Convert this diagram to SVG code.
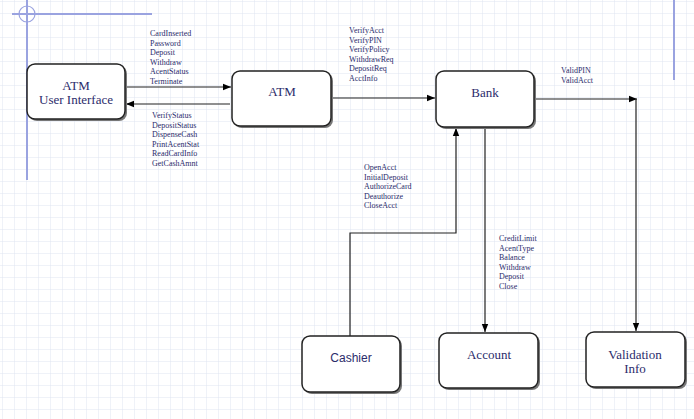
<svg xmlns="http://www.w3.org/2000/svg" width="694" height="419" viewBox="0 0 694 419">
<defs>
<pattern id="grid" width="12" height="12" patternUnits="userSpaceOnUse" x="3" y="2">
<path d="M12 0V12H0" fill="none" stroke="#dfe4f0" stroke-width="1"/>
</pattern>
<marker id="ah" viewBox="0 0 10 10" refX="10" refY="5" markerWidth="8" markerHeight="8" markerUnits="userSpaceOnUse" orient="auto">
<path d="M0 1L10 5L0 9Z" fill="#000"/>
</marker>
<style>
.box{fill:#fff;stroke:#222;stroke-width:1.5}
.sh{fill:#777}
.nt{font-family:"Liberation Serif",serif;font-size:13px;fill:#2b2b6b;text-anchor:middle}
.ns{font-family:"Liberation Sans",sans-serif;font-size:12px;fill:#2b2b6b;text-anchor:middle}
.lb{font-family:"Liberation Serif",serif;font-size:8px;fill:#2b2b6b}
.c{fill:none;stroke:#222;stroke-width:1.2}
</style>
</defs>
<rect width="694" height="419" fill="#fff"/>
<rect width="694" height="419" fill="url(#grid)"/>
<g id="guides" stroke="#9aa3e0" stroke-width="2" fill="none">
<line x1="12" y1="14" x2="152" y2="14"/>
<line x1="27" y1="0" x2="27" y2="180"/>
<circle cx="27" cy="14" r="8" stroke-width="1.2"/>
<line x1="674" y1="0" x2="674" y2="80"/>
</g>
<g id="connectors">
<line class="c" x1="126" y1="87" x2="231" y2="87" marker-end="url(#ah)"/>
<line class="c" x1="230" y1="104" x2="126" y2="104" marker-end="url(#ah)"/>
<line class="c" x1="332" y1="98" x2="435" y2="98" marker-end="url(#ah)"/>
<line class="c" x1="535" y1="99" x2="637" y2="99" marker-end="url(#ah)"/>
<line class="c" x1="636" y1="99" x2="636" y2="331" marker-end="url(#ah)"/>
<line class="c" x1="485" y1="127" x2="485" y2="332" marker-end="url(#ah)"/>
<polyline class="c" points="350,336 350,233 456,233 456,128" marker-end="url(#ah)"/>
<g class="lb">
<text x="150" y="36">CardInserted</text><text x="150" y="45.5">Password</text><text x="150" y="55">Deposit</text><text x="150" y="64.5">Withdraw</text><text x="150" y="74">AcentStatus</text><text x="150" y="83.5">Terminate</text>
<text x="152" y="118">VerifyStatus</text><text x="152" y="127.5">DepositStatus</text><text x="152" y="137">DispenseCash</text><text x="152" y="146.5">PrintAcentStat</text><text x="152" y="156">ReadCardInfo</text><text x="152" y="165.5">GetCashAmnt</text>
<text x="349" y="33">VerifyAcct</text><text x="349" y="42.5">VerifyPIN</text><text x="349" y="52">VerifyPolicy</text><text x="349" y="61.5">WithdrawReq</text><text x="349" y="71">DepositReq</text><text x="349" y="80.5">AcctInfo</text>
<text x="561" y="73">ValidPIN</text><text x="561" y="83">ValidAcct</text>
<text x="364" y="170">OpenAcct</text><text x="364" y="179.5">InitialDeposit</text><text x="364" y="189">AuthorizeCard</text><text x="364" y="198.5">Deauthorize</text><text x="364" y="208">CloseAcct</text>
<text x="499" y="241">CreditLimit</text><text x="499" y="250.5">AcentType</text><text x="499" y="260">Balance</text><text x="499" y="269.5">Withdraw</text><text x="499" y="279">Deposit</text><text x="499" y="288.5">Close</text>
</g>
</g>
<g id="atm-ui"><rect class="sh" x="29" y="66" width="98" height="55" rx="8"/><rect class="box" x="27" y="64" width="98" height="55" rx="8"/><text class="nt" x="76" y="90">ATM</text><text class="nt" x="76" y="104">User Interface</text></g>
<g id="atm"><rect class="sh" x="234" y="73" width="99" height="55" rx="8"/><rect class="box" x="232" y="71" width="99" height="55" rx="8"/><text class="nt" x="282" y="96">ATM</text></g>
<g id="bank"><rect class="sh" x="438" y="73" width="98" height="56" rx="8"/><rect class="box" x="436" y="71" width="98" height="56" rx="8"/><text class="nt" x="485" y="97">Bank</text></g>
<g id="cashier"><rect class="sh" x="304" y="338" width="98" height="56" rx="8"/><rect class="box" x="302" y="336" width="98" height="56" rx="8"/><text class="ns" x="351" y="362">Cashier</text></g>
<g id="account"><rect class="sh" x="441" y="335" width="99" height="55" rx="8"/><rect class="box" x="439" y="333" width="99" height="55" rx="8"/><text class="nt" x="489" y="359">Account</text></g>
<g id="validation"><rect class="sh" x="588" y="334" width="99" height="55" rx="8"/><rect class="box" x="586" y="332" width="99" height="55" rx="8"/><text class="nt" x="635" y="359">Validation</text><text class="nt" x="635" y="373">Info</text></g>
</svg>
